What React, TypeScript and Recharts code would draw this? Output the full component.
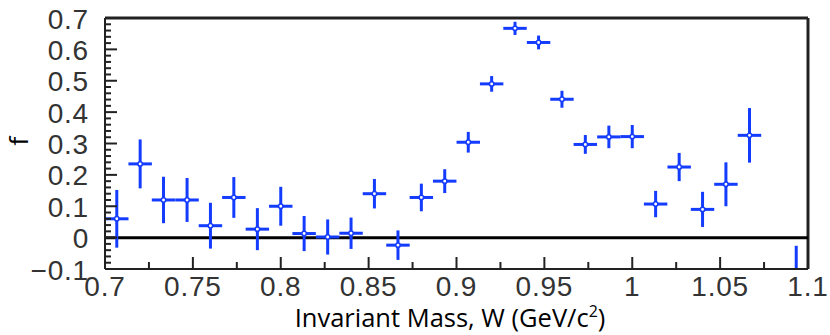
import {
  ComposedChart,
  Scatter,
  ErrorBar,
  XAxis,
  YAxis,
  ReferenceLine,
} from "recharts";

// bin centres of invariant mass W (GeV/c^2)
const massBins = [
  0.7067, 0.72, 0.7333, 0.7467, 0.76, 0.7733, 0.7867, 0.8, 0.8133, 0.8267,
  0.84, 0.8533, 0.8667, 0.88, 0.8933, 0.9067, 0.92, 0.9333, 0.9467, 0.96,
  0.9733, 0.9867, 1.0, 1.0133, 1.0267, 1.04, 1.0533, 1.0667, 1.0933,
];
const fValues = [
  0.06, 0.235, 0.12, 0.12, 0.038, 0.128, 0.027, 0.1, 0.013, 0.002,
  0.014, 0.14, -0.024, 0.128, 0.18, 0.304, 0.49, 0.667, 0.622, 0.441,
  0.297, 0.321, 0.322, 0.107, 0.225, 0.09, 0.17, 0.326, -0.25,
];
const fErrors = [
  0.092, 0.078, 0.074, 0.07, 0.073, 0.065, 0.067, 0.062, 0.056, 0.056,
  0.05, 0.047, 0.047, 0.044, 0.038, 0.033, 0.025, 0.021, 0.022, 0.027,
  0.03, 0.036, 0.037, 0.042, 0.045, 0.056, 0.07, 0.087, 0.224,
];
const binHalfWidth = 0.00667;

const xMajorTicks = [0.7, 0.75, 0.8, 0.85, 0.9, 0.95, 1, 1.05, 1.1];
const yMajorTicks = [-0.1, 0, 0.1, 0.2, 0.3, 0.4, 0.5, 0.6, 0.7];

const BLUE = "#143cff";
const FRAME = "#222222";
const TICK_FONT = "'Liberation Sans', Arial, sans-serif";
const TITLE_FONT = "'Open Sans', 'Noto Sans', sans-serif";

const r3 = (v: number) => Math.round(v * 1000) / 1000;

const buildTicks = (lo: number, hi: number, step: number) => {
  const out: number[] = [];
  const n = Math.round((hi - lo) / step);
  for (let i = 0; i <= n; i++) out.push(r3(lo + i * step));
  return out;
};

const xTicks = buildTicks(0.7, 1.1, 0.025);
const yTicks = buildTicks(-0.1, 0.7, 0.02);

const isMajor = (v: number, majors: number[]) =>
  majors.some((m) => Math.abs(m - v) < 1e-6);

const fmt = (v: number) => String(v).replace("-", "\u2212");

const data = massBins.map((w, i) => ({
  w,
  f: fValues[i],
  ef: fErrors[i],
  ew: binHalfWidth,
}));

// ticks point inward, like the ROOT frame
const XTick = (props: any) => {
  const { x, y, payload } = props;
  const major = isMajor(payload.value, xMajorTicks);
  return (
    <g>
      <line
        x1={x}
        y1={y}
        x2={x}
        y2={y - (major ? 12 : 7)}
        style={{ stroke: FRAME, strokeWidth: 2 }}
      />
      {major && (
        <text
          x={x}
          y={y + 17}
          textAnchor="middle"
          dominantBaseline="central"
          fontFamily={TICK_FONT}
          fontSize={28}
          letterSpacing={0.8}
          fill="#333"
        >
          {fmt(payload.value)}
        </text>
      )}
    </g>
  );
};

const YTick = (props: any) => {
  const { x, y, payload } = props;
  const major = isMajor(payload.value, yMajorTicks);
  return (
    <g>
      <line
        x1={x}
        y1={y}
        x2={x + (major ? 12 : 6)}
        y2={y}
        style={{ stroke: FRAME, strokeWidth: 2 }}
      />
      {major && (
        <text
          x={x - 16}
          y={y + 1}
          textAnchor="end"
          dominantBaseline="central"
          fontFamily={TICK_FONT}
          fontSize={28}
          letterSpacing={0.8}
          fill="#333"
        >
          {fmt(payload.value)}
        </text>
      )}
    </g>
  );
};

const PointMarker = (props: any) => {
  const { cx, cy } = props;
  return (
    <circle cx={cx} cy={cy} r={2.2} fill="#fff" stroke={BLUE} strokeWidth={1.5} />
  );
};

const YTitle = () => (
  <g transform="translate(18 141) rotate(-90)">
    <text
      x={0}
      y={0}
      textAnchor="middle"
      dominantBaseline="central"
      fontFamily={TITLE_FONT}
      fontSize={26}
      fill="#000"
    >
      f
    </text>
  </g>
);

const clipCss = `
.recharts-scatter-symbol, .recharts-errorBar, .recharts-errorBars {
  clip-path: url(#plotClip);
}
`;

export default function App() {
  return (
    <div style={{ position: "absolute", left: 0, top: 0, background: "#fff" }}>
      <style>{clipCss}</style>
      <ComposedChart
        width={830}
        height={335}
        data={data}
        margin={{ top: 18, right: 22, left: 0, bottom: 0 }}
      >
        <defs>
          <clipPath id="plotClip">
            <rect x={105} y={18} width={703} height={251} />
          </clipPath>
        </defs>
        <XAxis
          type="number"
          dataKey="w"
          domain={[0.7, 1.1]}
          ticks={xTicks}
          interval={0}
          allowDataOverflow
          tick={<XTick />}
          tickLine={false}
          tickSize={0}
          tickMargin={0}
          axisLine={{ stroke: FRAME, strokeWidth: 2 }}
          height={66}
        />
        <YAxis
          type="number"
          dataKey="f"
          domain={[-0.1, 0.7]}
          ticks={yTicks}
          interval={0}
          allowDataOverflow
          tick={<YTick />}
          tickLine={false}
          tickSize={0}
          tickMargin={0}
          axisLine={{ stroke: FRAME, strokeWidth: 2 }}
          width={105}
          label={{ content: <YTitle /> }}
        />
        <ReferenceLine y={0.7} stroke={FRAME} strokeWidth={3} />
        <ReferenceLine x={1.1} stroke={FRAME} strokeWidth={3} />
        <ReferenceLine y={0} stroke="#000" strokeWidth={3} />
        <Scatter
          data={data}
          dataKey="f"
          fill={BLUE}
          shape={<PointMarker />}
          isAnimationActive={false}
        >
          <ErrorBar
            dataKey="ew"
            direction="x"
            width={0}
            stroke={BLUE}
            strokeWidth={3}
            isAnimationActive={false}
          />
          <ErrorBar
            dataKey="ef"
            direction="y"
            width={0}
            stroke={BLUE}
            strokeWidth={3}
            isAnimationActive={false}
          />
        </Scatter>
        <text
          x={450}
          y={327}
          textAnchor="middle"
          fontFamily={TITLE_FONT}
          fontSize={25.5}
          fill="#000"
        >
          Invariant Mass, W (GeV/c<tspan dy={-10} fontSize={16}>2</tspan>
          <tspan dy={10}>)</tspan>
        </text>
      </ComposedChart>
    </div>
  );
}
